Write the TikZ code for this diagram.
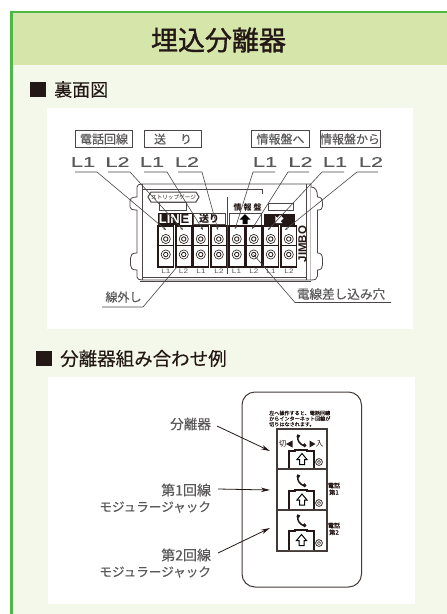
\documentclass[tikz,border=0pt]{standalone}
\usepackage{fontspec}
\setmainfont{Noto Sans CJK JP}
\newfontfamily\latinf{Liberation Sans}
\newfontface\latinm[FakeBold=0.2]{Liberation Sans}
\newfontface\medf[FakeBold=1.2]{Noto Sans CJK JP}
\newfontface\semif[FakeBold=0.2]{Noto Sans CJK JP}
\usetikzlibrary{arrows.meta}
\newcommand{\fsz}[1]{\fontsize{#1}{#1}\selectfont}
\definecolor{framegreen}{HTML}{4DB848}
\definecolor{headgreen}{HTML}{D6E6AB}
\definecolor{bodygreen}{HTML}{F4F8EA}
\definecolor{ink}{HTML}{231815}
\definecolor{graytxt}{HTML}{595757}
\definecolor{lead}{HTML}{4A4645}
\tikzset{
  txt/.style={inner sep=0pt,outer sep=0pt,text=graytxt},
  head/.style={inner sep=0pt,text=ink},
  tagbox/.style={draw=lead,line width=.7pt,fill=white,inner sep=0pt,minimum height=17pt,text=graytxt,font=\semif\fsz{12}},
  biglab/.style={inner sep=0pt,text=graytxt,font=\latinm\fsz{14}},
  leader/.style={draw=lead,line width=.6pt},
  tipleader/.style={leader,-{Stealth[length=3pt,width=2.4pt]}},
  arrowline/.style={draw=ink,line width=.8pt,-{Stealth[length=9pt,width=4.5pt]}},
  body/.style={draw=lead,line width=.8pt},
  plate/.style={draw=ink!85,line width=1.8pt},
  tiny/.style={inner sep=0pt,text=ink,font=\fsz{6.2}},
  phonepic/.pic={
    \draw[ink,line width=1.5pt] (-3,-5) .. controls (-4.5,-1) and (-1,4) .. (4,5);
    \draw[ink,line width=2.8pt] (-4,-5.5) -- (-1.4,-4.3);
    \draw[ink,line width=2.8pt] (2.6,3) -- (4.5,5.5);
  },
  housepic/.pic={
    \draw[black,line width=1pt,fill=white,line join=miter] (0,-6) -- (5,0) -- (2.5,0) -- (2.5,5) -- (-2.5,5) -- (-2.5,0) -- (-5,0) -- cycle;
  },
  jackpic/.pic={
    \draw[ink,line width=2pt,fill=white] (-12.5,20) -- (-12.5,1) -- (-6,1) -- (-6,0) -- (6,0) -- (6,1) -- (12.5,1) -- (12.5,20);
  }
}
\begin{document}
\begin{tikzpicture}[x=1pt,y=-1pt,line cap=butt]
\useasboundingbox (0,0) rectangle (447,614);
\fill[white] (0,0) rectangle (447,614);
% frame
\fill[bodygreen] (11,12) rectangle (447,614);
\fill[headgreen] (12,13) rectangle (447,65);
\fill[framegreen] (10,11) rectangle (447,13.2);
\fill[framegreen] (10,11) rectangle (13,614);
\node[head,font=\medf\fsz{27}] (title) at (218.5,40) {埋込分離器};
\fill[ink] (30,82) rectangle (46,97);
\node[head,font=\semif\fsz{18},anchor=west] (h1) at (54,89.5) {裏面図};
\fill[ink] (36,351) rectangle (52,366);
\node[head,font=\semif\fsz{18.5},anchor=west] (h2) at (60,358.5) {分離器組み合わせ例};
\fill[white] (47,108) rectangle (413,329);
\fill[white] (48,377) rectangle (415,604);

% ---- rear view: body
\draw[body,fill=white] (137,187) -- (137,197) .. controls (131,197) and (130,199) .. (130,201) -- (130,207) .. controls (130,209) and (132,210) .. (137,210) -- (137,253) .. controls (132,253) and (130.5,255) .. (130.5,258) -- (130.5,265) .. controls (130.5,268) and (132,270) .. (137,270) -- (137,277) .. controls (137,279) and (139,280) .. (142,280)
  -- (311,280) -- (311,184) -- (142,184) .. controls (139,184) and (137,185) .. (137,187) -- cycle;
\draw[body,fill=white] (311,187) .. controls (315,187) and (317.5,190) .. (317.5,197) .. controls (321,197) and (322.5,199) .. (322.5,203) -- (322.5,206) .. controls (322.5,209) and (321,210) .. (317.5,210) -- (317.5,253) .. controls (321,253) and (322.5,255) .. (322.5,259) -- (322.5,265) .. controls (322.5,268) and (321,270) .. (317.5,270) -- (317.5,276) .. controls (317.5,279) and (315,280) .. (311,280);
\draw[body] (142,184) -- (142,280);
\draw[body] (306.5,184) -- (306.5,280);
\draw[draw=lead,line width=1.3pt] (140,281.5) -- (311,281.5);
\draw[body] (142,277) -- (306.5,277);
\draw[body] (142,189.5) -- (262,189.5) -- (262,193.5);
\draw[body] (227,197) -- (227,274);

% strip gauge
\draw[body,fill=white] (159,202) rectangle (186,210);
\draw[body,line width=1pt,fill=white] (148,197) -- (151,192) -- (196,192) -- (199,197) -- (196,202) -- (151,202) -- cycle;
\node[inner sep=0pt,text=ink,font=\fsz{5.6}] (strip) at (173.5,197) {ストリップゲージ};

% labels on the body
\fill[ink] (158,213) rectangle (179,225);
\draw[ink,line width=.6pt] (179,213) rectangle (192,225);
\node[inner sep=0pt,text=white,font=\latinf\bfseries\fsz{13},anchor=east] (line1) at (180,219.3) {LIN};
\node[inner sep=0pt,text=ink,font=\latinf\bfseries\fsz{13},anchor=west] (line2) at (180.5,219.3) {E};
\draw[draw=lead,line width=.4pt,fill=white] (193,213) rectangle (225,224);
\node[inner sep=0pt,text=ink,font=\bfseries\fsz{10}] (okuri) at (209,218.5) {送り};
\draw[draw=lead,line width=.4pt,fill=white] (229,213) rectangle (261,225);
\fill[black,shift={(245,219.5)}] (0,-5.5) -- (5.5,0) -- (2.5,0) -- (2.5,4.5) -- (-2.5,4.5) -- (-2.5,0) -- (-5.5,0) -- cycle;
\fill[ink] (264,213.5) rectangle (295,225);
\fill[white,shift={(279,219.5)},rotate=135] (0,-5) -- (5,0) -- (2.4,0) -- (2.4,4) -- (-2.4,4) -- (-2.4,0) -- (-5,0) -- cycle;
\node[inner sep=0pt,text=ink,font=\bfseries\fsz{8}] (info) at (247.5,207) {情\hspace{2pt}報\hspace{2pt}盤};
\draw[body,line width=.7pt] (268,203.5) rectangle (293,210);
\node[inner sep=0pt,text=ink,font=\latinf\bfseries\fsz{11.5},rotate=90] (jimbo) at (302.5,244) {JIMBO};

% terminals
\foreach \x [count=\i] in {158,176,193,211,229,246,263,281}{
  \fill[white] (\x,226) rectangle ++(15.5,41);
  \draw[ink,line width=1.2pt] (\x,226) rectangle ++(15.5,41);
  \fill[ink] (\x,225.5) rectangle ++(15.5,1.6);
  \fill[ink] (\x,244.5) rectangle ++(15.5,1.8);
  \draw[ink,line width=.6pt] (\x+7.75,239) circle (4.6);
  \draw[ink,line width=.8pt] (\x+7.75,239) circle (2.2);
  \draw[ink,line width=.6pt] (\x+7.75,254.5) circle (4.6);
  \draw[ink,line width=.8pt] (\x+7.75,254.5) circle (2.2);
  \coordinate (t\i) at (\x+7.75,239);
}
\foreach \x/\t/\n in {166/L1/a,183.5/L2/b,201/L1/c,219/L2/d,236.5/L1/e,254/L2/f,271/L1/g,289/L2/h}{
  \node[inner sep=0pt,text=graytxt,font=\latinf\fsz{6.5}] (lab\n) at (\x,271.5) {\scalebox{1.25}[1]{\t}};
}
% hole and release points
\coordinate (release) at (177,267);
\coordinate (hole) at (253.5,254.5);

% tag boxes
\node[tagbox,minimum width=57.5pt] (tagA) at (104,139) {電話回線};
\node[tagbox,minimum width=57.5pt] (tagB) at (173,139) {送\hspace{14pt}り};
\node[tagbox,minimum width=57.5pt] (tagC) at (280.5,139) {情報盤へ};
\node[tagbox,minimum width=58pt] (tagD) at (350,139) {情報盤から};

% L labels
\foreach \x/\t/\n in {83/L1/1,117.5/L2/2,152/L1/3,187/L2/4,265/L1/5,300.5/L2/6,335/L1/7,371/L2/8}{
  \node[biglab] (big\n) at (\x,162) {\scalebox{1.55}[1]{\t}};
}
% leaders
\foreach \a/\b/\c/\d/\ex/\ey/\i in {75/97/166/1/166/230/1, 108/130/183/2/183/230/2, 144/167/203/3/203/230/3, 178/202/218/4/218/230/4, 275/253/235/5/235/229/5, 309/288/252/6/252/229/6, 344/322/268/7/268/230/7, 378/357/285/8/285/230/8}{
  \coordinate (ls\i) at (\a,172);
  \coordinate (lk\i) at (\b,172);
  \coordinate (le\i) at (\ex,\ey);
  \draw[tipleader] (ls\i) -- (lk\i) -- (le\i);
}
% release + hole
\node[txt,font=\semif\fsz{12}] (rel) at (123.5,297) {線外し};
\coordinate (r1) at (102,307);
\coordinate (r2) at (143,307);
\draw[leader] (r1) -- (r2) -- (release);
\node[txt,font=\semif\fsz{12.6}] (holetxt) at (341,294) {電線差し込み穴};
\coordinate (h1) at (391,302.5);
\coordinate (h2) at (295,302.5);
\draw[leader] (h1) -- (h2) -- (hole);

% ---- combination example
\draw[draw=ink!85,line width=1pt,fill=white,rounded corners=13pt] (242,392) rectangle (361.5,587);
\node[tiny,align=left,anchor=north west,font=\semif\fsz{5.1}] (note) at (269,410.5) {左へ操作すると、電話回線\\[0.5pt]からインターネット回線が\\[0.5pt]切りはなされます。};
\draw[plate] (277,429) rectangle (327,551);
\pic at (301,450) {jackpic};
\pic at (301,490) {jackpic};
\pic at (301,530) {jackpic};
\draw[plate] (277,469) -- (327,469);
\draw[plate] (277,510) -- (327,510);
\pic at (302,459.5) {housepic};
\pic at (302,500) {housepic};
\pic at (301.5,540.5) {housepic};
\pic at (301,441) {phonepic};
\pic at (301,481) {phonepic};
\pic at (301,521) {phonepic};
\foreach \y/\n in {462/p,503/q,543/r}{
  \draw[ink,line width=.7pt] (319,\y) circle (3.4);
  \draw[ink,line width=.5pt] (319,\y) circle (1.6);
}
\node[inner sep=0pt,text=ink,font=\fsz{7.5}] (kiri) at (282.5,444) {切};
\node[inner sep=0pt,text=ink,font=\fsz{7.5}] (iri) at (319.5,444) {入};
\fill[ink] (286,444) -- (292.5,440.5) -- (292.5,447.5) -- cycle;
\fill[ink] (315.5,444) -- (309.5,440.5) -- (309.5,447.5) -- cycle;
\node[tiny,align=center,font=\semif\fsz{6.2}] (tel1) at (334,489) {電話\\[.6pt]第1};
\node[tiny,align=center,font=\semif\fsz{6.2}] (tel2) at (334,529) {電話\\[.6pt]第2};

% callouts
\node[txt,anchor=east,font=\semif\fsz{13.6}] (sep) at (211,424) {分離器};
\node[txt,anchor=east,font=\semif\fsz{14}] (l1a) at (211,490) {第1回線};
\node[txt,anchor=east,font=\semif\fsz{12.6}] (l1b) at (211,507) {モジュラージャック};
\node[txt,anchor=east,font=\semif\fsz{14}] (l2a) at (211,555) {第2回線};
\node[txt,anchor=east,font=\semif\fsz{12.6}] (l2b) at (211,572) {モジュラージャック};
\coordinate (e1) at (270,451);
\coordinate (e2) at (270,490);
\coordinate (e3) at (270,528);
\draw[arrowline] (sep.east) ++(6,2) -- (e1);
\draw[arrowline] (l1a.east) ++(7,-1) -- (e2);
\draw[arrowline] (l2a.east) ++(7,-2) -- (e3);
\end{tikzpicture}
\end{document}
